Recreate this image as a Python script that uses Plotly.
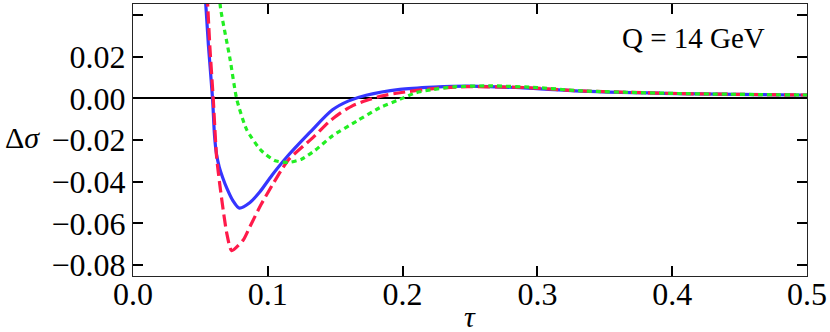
import plotly.graph_objects as go

# ---------- DATA ----------

tau_blue = [0.0535, 0.0560, 0.0590, 0.0605, 0.0620, 0.0640, 0.0665, 0.0695,
            0.0740, 0.0789, 0.0868, 0.0940, 0.1030, 0.1130, 0.1310, 0.1480,
            0.1600, 0.1730, 0.1980, 0.2230, 0.2480, 0.2900, 0.3320, 0.4060,
            0.4950, 0.5]
sig_blue = [0.050, 0.025, 0.000, -0.018, -0.027, -0.033, -0.038, -0.043,
            -0.049, -0.0527, -0.0500, -0.0450, -0.0370, -0.0290, -0.0165, -0.0055,
            -0.0012, 0.0015, 0.0043, 0.0054, 0.0059, 0.0050, 0.0035, 0.0023,
            0.0016, 0.0016]

tau_red = [0.0550, 0.0570, 0.0595, 0.0620, 0.0645, 0.0695, 0.0732, 0.0818,
           0.0868, 0.0950, 0.1030, 0.1100, 0.1160, 0.1340, 0.1450, 0.1540,
           0.1630, 0.1730, 0.1850, 0.1980, 0.2230, 0.2480, 0.2900, 0.3320,
           0.4060, 0.4950, 0.5]
sig_red = [0.050, 0.025, 0.000, -0.028, -0.042, -0.0646, -0.0731, -0.0680,
           -0.0615, -0.0510, -0.0420, -0.0345, -0.0290, -0.0185, -0.0115, -0.0070,
           -0.0035, -0.0010, 0.0012, 0.0027, 0.0047, 0.0056, 0.0052, 0.0036,
           0.0023, 0.0016, 0.0016]

tau_green = [0.0640, 0.0650, 0.0720, 0.0770, 0.0843, 0.0950, 0.1050, 0.1150,
             0.1250, 0.1350, 0.1480, 0.1660, 0.1830, 0.1980, 0.2100, 0.2230,
             0.2380, 0.2650, 0.3000, 0.3320, 0.4060, 0.4950, 0.5]
sig_green = [0.050, 0.043, 0.0188, -0.0005, -0.0150, -0.0250, -0.0298, -0.0308,
             -0.0292, -0.0250, -0.0180, -0.0109, -0.0045, -0.0005, 0.0027, 0.0043,
             0.0055, 0.0060, 0.0052, 0.0036, 0.0023, 0.0016, 0.0016]

x_ticks = [0.0, 0.1, 0.2, 0.3, 0.4, 0.5]
x_labels = ["0.0", "0.1", "0.2", "0.3", "0.4", "0.5"]
y_ticks = [-0.08, -0.06, -0.04, -0.02, 0.00, 0.02, 0.04]
y_labels = ["−0.08", "−0.06", "−0.04", "−0.02", "0.00", "0.02", "0.04"]

x_range = [0, 0.5]
y_range = [-0.0853, 0.0453]

# minor tick positions (4 minor ticks between majors)
x_minor = [round(i * 0.02, 3) for i in range(26)]
y_minor = [round(-0.084 + i * 0.004, 3) for i in range(33)]

FONT = "Liberation Serif"
INK = "#000000"

fig = go.Figure()

fig.add_trace(go.Scatter(
    x=tau_blue, y=sig_blue, mode="lines",
    line=dict(color="#3535ff", width=3.2, shape="spline", smoothing=0.8),
))

fig.add_trace(go.Scatter(
    x=tau_red, y=sig_red, mode="lines",
    line=dict(color="#ff1a4a", width=3.2, dash="12px,5px", shape="spline", smoothing=0.6),
))

fig.add_trace(go.Scatter(
    x=tau_green, y=sig_green, mode="lines",
    line=dict(color="#22ee22", width=3.2, dash="5px,4px", shape="spline", smoothing=0.6),
))

minor_x = dict(overlaying="x", anchor="y", range=x_range, tickvals=x_minor,
               ticks="inside", ticklen=5, tickwidth=2, tickcolor=INK,
               showticklabels=False)
minor_y = dict(overlaying="y", anchor="x", range=y_range, tickvals=y_minor,
               ticks="inside", ticklen=5, tickwidth=2, tickcolor=INK,
               showticklabels=False)

fig.update_layout(
    width=830, height=332,
    margin=dict(l=133, r=23, t=4, b=56),
    template="simple_white",
    showlegend=False,
    xaxis=dict(
        range=x_range, tickvals=x_ticks, ticktext=x_labels,
        ticks="inside", ticklen=10, tickwidth=2, tickcolor=INK,
        tickfont=dict(family=FONT, size=32, color=INK),
        showline=True, mirror="ticks",
        ticklabelstandoff=-10,
    ),
    yaxis=dict(
        range=y_range, tickvals=y_ticks, ticktext=y_labels,
        ticks="inside", ticklen=10, tickwidth=2, tickcolor=INK,
        tickfont=dict(family=FONT, size=32, color=INK),
        showline=True, mirror="ticks",
        zeroline=True, zerolinecolor=INK, zerolinewidth=1.5,
    ),
    xaxis2=dict(side="bottom", **minor_x),
    xaxis3=dict(side="top", **minor_x),
    yaxis2=dict(side="left", **minor_y),
    yaxis3=dict(side="right", **minor_y),
)

fig.add_annotation(x=(767 - 133) / 674, y=0.029, xref="x domain", yref="y",
                   text="Q = 14 GeV", showarrow=False, xanchor="right",
                   font=dict(family=FONT, size=29, color=INK))
fig.add_annotation(x=0, y=-0.019, xref="paper", yref="y", text="Δ<i>σ</i>",
                   showarrow=False, xanchor="left", xshift=-130,
                   font=dict(family=FONT, size=30, color=INK))
fig.add_annotation(x=0.25, y=0, xref="x", yref="paper", text="<i>τ</i>",
                   showarrow=False, yanchor="middle", yshift=-40,
                   font=dict(family=FONT, size=30, color=INK))

fig.write_html("out.html", config={"displayModeBar": False},
               post_script="document.body.style.margin='0';")
